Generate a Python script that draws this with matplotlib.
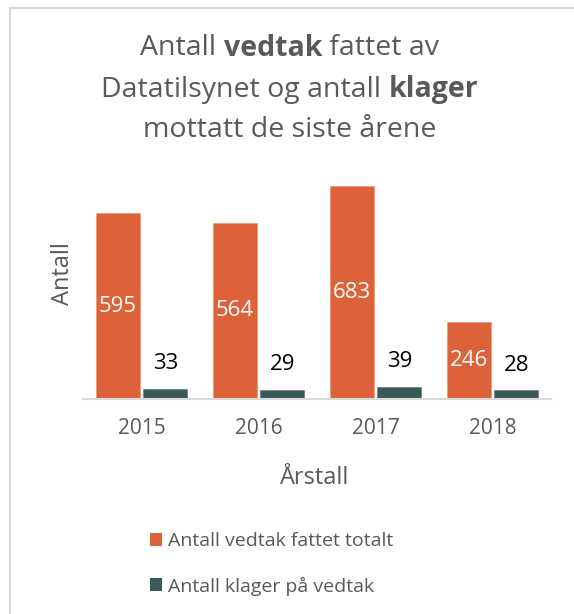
import matplotlib
matplotlib.use("Agg")
import matplotlib.pyplot as plt
from matplotlib.patches import Rectangle, Patch
import numpy as np

years = ["2015", "2016", "2017", "2018"]
vedtak = [595, 564, 683, 246]
klager = [33, 29, 39, 28]
series_names = ["Antall vedtak fattet totalt", "Antall klager på vedtak"]

ORANGE = "#DD623A"
GREEN = "#3B5956"
GREY_TXT = "#595959"
FONT = "Open Sans"

W, H = 574, 614
fig = plt.figure(figsize=(W / 100, H / 100), dpi=100)
fig.patch.set_facecolor("white")

# chart border (left + top visible)
fig.add_artist(Rectangle((10 / W, -0.1), 1.2, (H - 8) / H + 0.1, transform=fig.transFigure,
                         fill=False, edgecolor="#D9D9D9", linewidth=1.5))

ax = fig.add_axes([83 / W, 1 - 399 / H, (551 - 83) / W, 218.8 / H])
x = np.arange(len(years))
bw = 0.376
gap = 0.034
b1 = ax.bar(x - bw / 2 - gap / 2, vedtak, bw, color=ORANGE, edgecolor="#EE9A7E", linewidth=0.6)
b2 = ax.bar(x + bw / 2 + gap / 2, klager, bw, color=GREEN, edgecolor="#6E8583", linewidth=0.6)

for rect, v in zip(b1, vedtak):
    ax.text(rect.get_x() + rect.get_width() / 2, v / 2, str(v), ha="center", va="center",
            color="white", fontsize=16, family=FONT)
for rect, v in zip(b2, klager):
    ax.annotate(str(v), (rect.get_x() + rect.get_width() / 2, v), xytext=(0, 18),
                textcoords="offset points", ha="center", va="center",
                color="black", fontsize=16, family=FONT)

ax.set_xlim(-0.5, len(years) - 0.5)
ax.set_ylim(0, 700)
ax.set_yticks([])
ax.set_xticks(x)
ax.set_xticklabels(years, fontsize=15, color=GREY_TXT, family=FONT)
ax.tick_params(axis="x", length=0, pad=14)
for s in ["top", "right", "left"]:
    ax.spines[s].set_visible(False)
ax.spines["bottom"].set_color("#D9D9D9")
ax.spines["bottom"].set_linewidth(1.5)
ax.set_facecolor("none")

fig.text(315 / W, 1 - 478 / H, "Årstall", ha="center", va="center",
         fontsize=17, color=GREY_TXT, family=FONT)
fig.text(63 / W, 1 - 274 / H, "Antall", rotation=90, ha="center", va="center",
         fontsize=17, color=GREY_TXT, family=FONT)

# Title with bold parts
title_lines = [
    [("Antall ", "normal"), ("vedtak", "bold"), (" fattet av", "normal")],
    [("Datatilsynet og antall ", "normal"), ("klager", "bold")],
    [("mottatt de siste årene", "normal")],
]
title_y = [48, 90, 130]
fig.canvas.draw()
renderer = fig.canvas.get_renderer()
cx = 290
for parts, yy in zip(title_lines, title_y):
    texts = []
    widths = []
    for s, wgt in parts:
        t = fig.text(0, 1 - yy / H, s, fontsize=20.5, color=GREY_TXT, family=FONT,
                     fontweight=wgt, ha="left", va="center")
        texts.append(t)
        widths.append(t.get_window_extent(renderer).width)
    total = sum(widths)
    xs = cx - total / 2
    for t, wd in zip(texts, widths):
        t.set_x(xs / W)
        xs += wd

# Legend
handles = [Patch(facecolor=ORANGE, edgecolor="none"), Patch(facecolor=GREEN, edgecolor="none")]
leg = fig.legend(handles, series_names, loc="center left", bbox_to_anchor=(132 / W, 1 - 564 / H),
                 frameon=False, handlelength=0.65, handleheight=0.65, handletextpad=0.3,
                 labelspacing=1.35, prop={"family": FONT, "size": 14})
for t in leg.get_texts():
    t.set_color(GREY_TXT)

fig.savefig("out.png", dpi=100)
